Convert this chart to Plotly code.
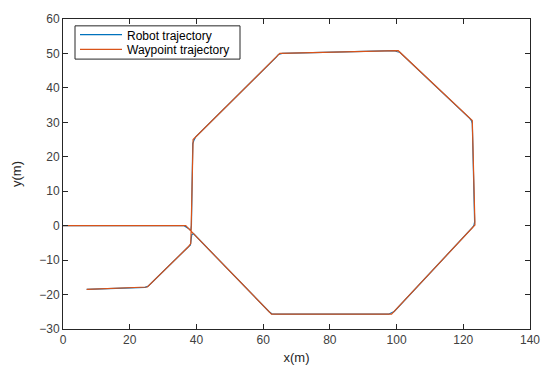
import plotly.graph_objects as go

# Planned waypoint path (m)
waypoint_x = [0, 36.8, 38.4, 39.0, 65.0, 100.5, 122.7, 123.5, 98.5, 62.5, 38.4, 38.3, 37.5, 25.3, 7.1]
waypoint_y = [0, 0.0, -1.6, 25.0, 50.0, 50.8, 30.5, 0.2, -25.7, -25.7, -1.6, -5.2, -6.2, -17.8, -18.5]

# Tracked robot path (m)
robot_x = [0, 36.3, 37.6, 38.3, 38.5, 38.9, 39.3, 39.8, 64.0, 64.6, 65.7, 99.4, 100.2, 100.9, 122.0,
           122.5, 122.7, 123.4, 123.2, 122.7, 99.3, 98.3, 97.6, 63.3, 62.6, 61.8, 39.1, 38.6, 38.2, 37.3,
           25.6, 24.6, 7.1]
robot_y = [0, 0.0, -0.8, -1.4, 0.0, 23.8, 24.9, 25.8, 49.0, 49.7, 50.0, 50.8, 50.5, 50.4, 31.1,
           30.4, 29.6, 1.1, 0.1, -0.6, -24.9, -25.5, -25.7, -25.7, -25.6, -25.0, -2.3, -2.6, -5.6, -6.4,
           -17.5, -17.9, -18.5]

x_ticks = [0, 20, 40, 60, 80, 100, 120, 140]
y_ticks = [-30, -20, -10, 0, 10, 20, 30, 40, 50, 60]

series_names = ["Robot trajectory", "Waypoint trajectory"]
series_colors = ["#0072BD", "#D95319"]

FONT = "Liberation Sans, Arial, sans-serif"

fig = go.Figure()
fig.add_trace(go.Scatter(x=robot_x, y=robot_y, mode="lines", name=series_names[0],
                         line=dict(color=series_colors[0], width=1.2), showlegend=False))
fig.add_trace(go.Scatter(x=waypoint_x, y=waypoint_y, mode="lines", name=series_names[1],
                         line=dict(color=series_colors[1], width=1.2), showlegend=False))

axis_common = dict(showgrid=False, zeroline=False, showline=True, linecolor="#262626", linewidth=1,
                   mirror="ticks", ticks="inside", ticklen=5, tickcolor="#262626",
                   tickfont=dict(family=FONT, size=12, color="#404040"))

# Plot area in pixels, used to place the boxed legend in paper coordinates
L, R, T, B = 63, 530, 12, 329
W, H = R - L, B - T


def px(xp):
    return (xp - L) / W


def py(yp):
    return (B - yp) / H


shapes = [dict(type="rect", xref="paper", yref="paper",
               x0=px(75), x1=px(240), y0=py(53), y1=py(19),
               line=dict(color="#262626", width=1), fillcolor="white", layer="above")]
annotations = []
for i, (name, color) in enumerate(zip(series_names, series_colors)):
    yrow = 28 + 15 * i
    shapes.append(dict(type="line", xref="paper", yref="paper",
                       x0=px(80), x1=px(122), y0=py(yrow), y1=py(yrow),
                       line=dict(color=color, width=1.2), layer="above"))
    annotations.append(dict(xref="paper", yref="paper", x=px(125), y=py(yrow + 1),
                            xanchor="left", yanchor="middle", text=name, showarrow=False,
                            font=dict(family=FONT, size=12, color="#000000")))

fig.update_layout(
    width=552, height=376,
    margin=dict(l=L, r=552 - R, t=T, b=376 - B),
    paper_bgcolor="white", plot_bgcolor="white",
    font=dict(family=FONT, color="#262626"),
    xaxis=dict(range=[0, 140], tickvals=x_ticks, title=dict(text="x(m)", font=dict(size=13), standoff=6),
               **axis_common),
    yaxis=dict(range=[-30, 60], tickvals=y_ticks, title=dict(text="y(m)", font=dict(size=13), standoff=14),
               **axis_common),
    shapes=shapes,
    annotations=annotations,
    showlegend=False,
)

fig.write_html("out.html")
